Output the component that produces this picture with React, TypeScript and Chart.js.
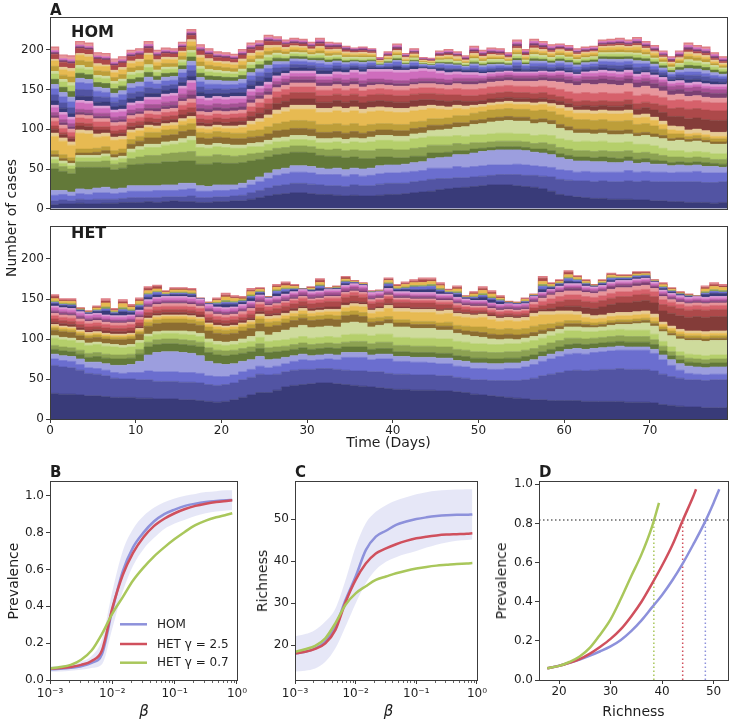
import React, { useEffect, useRef } from "react";
import { Chart, registerables } from "chart.js";

Chart.register(...registerables);

const FONT = "'DejaVu Sans', 'Liberation Sans', Arial, sans-serif";
const TEXT = "#1e1e1e";
const FRAME = "#3c3c3c";

// ---------------- Panel A : ticks ----------------
const DAY_TICKS = [0, 10, 20, 30, 40, 50, 60, 70];
const CASE_TICKS = [0, 50, 100, 150, 200];

// tab20b colour cycle used by the stacked layers
const TAB20B = [
  "#393b79", "#5254a3", "#6b6ecf", "#9c9ede",
  "#637939", "#8ca252", "#b5cf6b", "#cedb9c",
  "#8c6d31", "#bd9e39", "#e7ba52", "#e7cb94",
  "#843c39", "#ad494a", "#d6616b", "#e7969c",
  "#7b4173", "#a55194", "#ce6dbd", "#de9ed6",
];

// ---------------- Panel A : HOM (cases per strain per day) ----------------
const HOM_TOTAL = [203,193,192,210,208,196,195,188,191,199, 201,210,199,202,201,209,225,206,201,197, 196,194,200,208,211,218,216,212,214,213, 209,214,209,208,204,202,203,201,190,197, 207,195,201,190,189,198,200,197,192,204, 199,202,201,196,212,200,213,210,206,207, 205,201,203,204,212,213,214,212,215,210, 205,198,191,198,208,205,203,196,191,191];
const HOM_L1 = [5,6,6,7,6,6,7,7,8,8, 8,9,8,9,10,9,9,8,8,9, 9,10,10,12,14,16,18,19,20,20, 19,18,18,17,16,17,16,16,17,18, 18,19,20,21,22,24,25,26,27,28, 29,30,30,30,29,28,27,25,22,18, 16,15,14,13,13,12,12,12,11,11, 10,10,9,9,8,8,8,7,8,8];
const HOM_L2 = [5,5,4,5,5,6,5,5,5,6, 6,5,6,6,5,6,7,6,6,6, 6,6,7,8,9,10,11,11,12,12, 12,12,11,12,12,13,13,13,14,14, 14,13,14,14,15,14,13,13,12,12, 12,12,13,13,14,14,15,16,18,19, 20,20,21,21,22,22,22,23,23,24, 24,24,25,25,26,26,25,26,26,27];
const HOM_L3 = [7,7,6,7,7,8,8,7,7,8, 8,8,9,8,8,9,9,8,8,8, 8,8,9,10,11,12,13,14,14,14, 14,13,14,14,13,13,12,13,13,13, 13,14,13,13,14,13,13,14,13,13, 13,13,12,12,13,13,12,12,12,12, 12,11,12,12,11,12,12,13,12,12, 12,12,11,12,12,13,12,12,11,12];
const HOM_L4 = [6,5,5,6,6,6,7,6,6,7, 7,7,6,7,7,8,7,7,6,7, 7,6,6,6,6,7,7,7,8,8, 8,8,7,8,8,8,9,9,10,10, 10,10,11,11,12,13,14,15,16,17, 18,18,19,19,18,18,17,17,16,15, 14,14,13,13,13,12,12,12,11,11, 10,10,9,9,8,8,8,8,7,7];
const HOM_L5 = [27,24,23,27,28,26,25,24,25,26, 27,28,28,29,29,28,28,27,28,28, 27,27,26,24,22,20,19,18,17,17, 17,16,16,15,15,14,13,12,11,10, 9,8,8,7,7,6,6,5,5,5, 4,4,4,4,4,4,4,5,5,5, 5,5,5,5,6,6,5,5,5,5, 5,4,4,4,4,4,5,4,4,4];
const HOM_L6 = [7,6,6,7,7,7,8,7,7,8, 9,10,10,10,11,11,12,10,10,10, 10,9,9,9,8,8,8,8,8,8, 8,8,8,9,9,9,10,10,10,10, 10,10,10,11,10,10,9,9,8,8, 7,7,7,7,7,7,7,8,8,8, 8,8,8,8,8,8,9,8,8,8, 8,7,7,6,6,6,6,5,6,6];
const HOM_L7 = [5,4,4,5,5,5,6,5,5,8, 9,10,10,11,11,12,14,11,10,10, 10,10,9,9,8,8,8,8,8,8, 8,8,9,9,9,10,10,11,11,11, 11,11,12,12,11,11,11,10,10,10, 10,10,10,10,9,10,10,10,11,11, 11,11,12,12,12,11,11,11,11,10, 10,9,8,8,7,7,7,7,7,7];
const HOM_L8 = [3,3,3,3,3,3,3,3,3,4, 4,4,4,4,4,5,5,4,4,4, 4,4,4,4,5,5,5,5,5,5, 5,5,5,5,5,5,5,6,6,6, 6,6,6,6,7,8,9,10,12,13, 14,15,15,16,16,16,15,15,14,13, 12,11,10,10,10,10,10,10,10,11, 11,12,12,13,13,13,12,12,12,12];
const HOM_L9 = [3,3,3,3,3,4,4,4,4,6, 7,8,8,8,8,9,8,8,8,8, 8,8,8,8,8,8,9,9,9,9, 9,8,8,8,8,8,7,7,7,7, 7,7,7,7,7,6,6,6,5,5, 5,5,5,5,5,5,5,5,5,5, 5,5,5,5,5,5,5,5,4,4, 4,4,3,3,3,3,3,3,3,3];
const HOM_L10 = [5,5,4,5,5,5,5,5,5,6, 6,7,7,7,7,8,8,7,7,7, 7,7,7,8,8,9,9,10,10,10, 10,10,10,10,10,10,9,9,8,8, 8,8,8,8,8,8,8,9,9,9, 10,10,10,10,10,10,11,11,11,12, 12,12,12,12,12,12,12,12,11,11, 10,8,6,5,4,4,4,4,4,4];
const HOM_L11 = [18,17,16,20,19,14,13,13,12,9, 7,6,5,5,5,5,6,5,5,5, 5,6,7,8,10,11,12,13,14,14, 15,15,15,16,16,16,16,16,16,15, 15,15,14,14,13,12,10,9,8,7, 6,6,6,6,6,6,7,7,7,8, 8,8,8,8,8,9,9,9,8,8, 7,6,5,4,3,3,3,3,3,3];
const HOM_L12 = [4,4,4,4,4,4,4,4,4,3, 3,3,3,3,3,3,3,3,3,3, 3,3,3,4,4,4,5,5,5,5, 5,5,5,5,5,5,5,5,5,5, 5,5,5,5,4,4,4,4,4,3, 3,3,3,3,3,3,3,3,3,4, 4,4,4,4,4,4,4,4,4,4, 4,4,5,5,5,5,5,5,5,5];
const HOM_L13 = [5,4,4,5,5,5,4,4,4,4, 4,4,4,4,4,5,5,4,4,4, 4,5,5,6,7,7,8,8,8,8, 8,8,8,8,8,8,8,8,8,8, 8,8,8,8,7,7,7,6,6,5, 5,5,5,5,5,5,5,5,5,5, 5,5,6,6,6,6,6,7,7,8, 9,11,12,13,14,14,14,15,15,15];
const HOM_L14 = [4,3,3,4,4,4,4,4,4,5, 5,5,5,5,5,6,6,5,5,5, 5,5,5,6,7,7,8,8,8,8, 8,8,8,8,8,8,8,8,8,8, 8,8,8,8,8,8,8,7,7,7, 7,7,7,7,7,7,7,7,6,6, 6,6,6,6,6,6,6,6,7,7, 8,9,10,11,12,12,12,12,12,12];
const HOM_L15 = [6,5,5,6,6,6,6,6,6,5, 5,5,5,5,5,6,6,5,5,5, 5,5,5,6,6,6,7,7,7,7, 7,7,7,7,7,7,7,7,7,7, 7,7,7,7,7,7,7,8,8,8, 8,8,8,8,8,8,8,8,9,9, 9,10,10,10,10,10,10,10,10,10, 10,10,10,10,10,10,10,10,10,10];
const HOM_L16 = [4,4,4,4,4,4,4,4,4,4, 4,4,4,4,4,5,5,4,4,4, 4,4,4,5,5,5,5,5,5,5, 5,5,5,5,5,5,5,5,5,5, 5,5,5,5,5,5,5,6,6,6, 6,6,6,6,6,6,7,7,8,9, 10,10,11,11,11,11,10,10,10,10, 9,8,7,7,6,6,6,6,6,6];
const HOM_L17 = [3,3,3,3,3,3,3,3,3,3, 3,3,4,4,4,4,5,4,4,4, 4,4,4,4,4,4,4,4,4,4, 4,4,4,4,4,4,4,4,3,3, 3,3,3,3,3,3,3,3,4,4, 4,4,4,4,4,4,4,4,4,5, 5,5,5,6,6,6,6,6,6,6, 6,6,6,6,6,6,6,6,6,6];
const HOM_L18 = [4,4,4,4,4,4,4,4,4,4, 4,5,5,5,5,5,6,5,5,5, 5,5,5,5,4,4,4,4,4,4, 4,4,4,4,4,4,4,4,4,4, 4,4,4,4,4,4,4,4,4,4, 3,3,3,3,3,3,3,3,3,4, 4,4,4,4,4,4,4,4,4,4, 5,5,5,5,5,5,5,5,5,5];
const HOM_L19 = [6,6,5,8,8,6,6,6,6,6, 6,6,6,7,7,7,9,7,6,6, 6,6,5,5,5,5,4,4,4,4, 4,4,4,5,6,7,8,9,9,10, 10,10,9,9,8,7,6,5,4,4, 3,3,3,3,3,3,3,3,3,3, 3,3,4,4,4,4,4,4,4,4, 3,3,3,3,3,3,3,3,3,3];
const HOM_L20 = [3,3,3,3,3,3,3,3,3,3, 3,3,3,3,3,3,3,3,3,3, 3,3,3,3,3,3,3,3,3,3, 3,3,3,3,3,3,3,3,3,3, 3,3,3,3,3,3,3,3,3,3, 3,2,2,2,2,2,2,2,2,2, 2,2,2,3,3,3,3,3,3,3, 3,3,3,3,3,3,3,3,3,3];
// thinner strains stacked above the first colour cycle (relative sizes; fitted to the daily total)
const HOM_C1 = [5,5,4,5,6,5,5,4,5,5, 5,4,5,5,6,5,6,5,5,4, 5,5,5,5,6,5,5,4,4,4, 4,4,4,3,3,3,3,3,2,2, 2,2,2,2,2,2,2,2,2,2, 2,2,2,2,3,2,2,2,2,3, 3,3,3,3,3,3,3,3,3,3, 3,3,3,3,3,3,3,3,3,3];
const HOM_C2 = [7,6,6,8,8,7,6,6,7,6, 6,6,6,6,6,7,8,6,6,6, 6,6,6,6,6,6,6,6,4,4, 4,4,4,3,3,3,3,3,1,1, 1,1,1,1,1,1,1,1,1,3, 3,3,3,3,3,3,3,3,3,4, 4,4,4,4,4,4,4,4,4,4, 4,4,4,4,4,4,4,4,4,4];
const HOM_C3 = [7,7,6,8,8,7,6,6,7,6, 6,6,6,6,6,6,7,6,6,6, 6,6,6,5,5,5,5,5,4,4, 4,4,4,3,3,3,3,3,2,2, 2,2,2,2,2,2,2,2,2,3, 3,3,3,3,3,3,3,3,3,4, 4,4,4,4,4,4,4,4,4,4, 4,3,3,3,3,3,3,3,3,3];
const HOM_C4 = [5,5,5,5,5,5,5,5,5,5, 5,5,5,5,5,5,6,5,5,5, 5,5,5,4,4,4,4,4,3,3, 3,3,3,2,2,2,2,2,1,1, 1,1,1,1,1,1,1,1,1,2, 2,2,2,2,2,2,2,2,2,3, 3,3,3,3,3,3,3,3,3,3, 3,3,3,3,3,3,3,3,3,3];
const HOM_C5 = [6,6,6,6,6,6,6,6,6,5, 5,5,5,5,5,5,6,5,5,5, 5,5,5,5,5,5,5,5,3,3, 3,3,3,2,2,2,2,2,1,1, 1,1,1,1,1,1,1,1,1,2, 2,2,2,2,2,2,2,2,2,3, 3,3,3,3,3,3,3,3,3,3, 3,3,3,3,3,3,3,3,3,3];
const HOM_C6 = [6,6,6,6,6,6,6,6,6,5, 5,5,5,5,5,5,6,5,5,5, 5,5,5,4,4,4,4,4,3,3, 3,3,3,2,2,2,2,2,1,1, 1,1,1,1,1,1,1,1,1,2, 2,2,2,2,2,2,2,2,2,3, 3,3,3,3,3,3,3,3,3,3, 3,3,3,3,3,3,3,3,3,3];
const HOM_C7 = [6,5,6,6,7,6,6,5,6,5, 5,5,5,5,5,5,6,5,5,5, 5,5,5,4,4,4,4,4,3,3, 3,3,3,2,2,2,2,2,1,1, 1,1,1,1,1,1,1,1,1,2, 2,2,2,2,2,2,2,2,2,3, 3,3,3,3,3,3,3,3,3,3, 3,3,3,3,3,3,3,2,2,2];
const HOM_C8 = [6,6,6,6,6,6,6,6,6,5, 5,5,5,5,5,5,6,5,5,5, 5,5,5,4,4,4,4,4,3,3, 3,3,3,2,2,2,2,2,1,1, 1,1,1,1,1,1,1,1,1,2, 2,2,2,2,2,2,2,2,2,3, 3,3,3,3,3,3,3,3,3,3, 3,2,2,2,2,2,2,2,2,2];
const HOM_C9 = [6,6,5,6,6,6,6,6,6,5, 5,5,5,5,5,5,6,5,5,5, 5,5,5,5,5,5,5,5,3,3, 3,3,3,2,2,2,2,2,1,1, 1,1,1,1,1,1,1,1,1,2, 2,2,2,2,2,2,2,2,2,2, 2,2,2,2,2,2,2,2,2,2, 2,2,2,2,2,2,2,2,2,2];
const HOM_C10 = [4,4,4,4,4,4,4,4,4,3, 3,3,3,3,3,3,3,3,3,3, 3,3,3,3,3,3,3,3,2,2, 2,2,2,1,1,1,1,1,1,1, 1,1,1,1,1,1,1,1,1,2, 2,2,2,2,2,2,2,2,2,2, 2,2,2,2,2,2,2,2,2,2, 2,2,2,2,2,2,2,2,2,2];
const HOM_C11 = [3,3,3,3,3,3,3,3,3,3, 3,3,3,3,3,3,3,3,3,3, 3,3,3,3,3,3,3,3,2,2, 2,2,2,2,2,2,2,2,1,1, 1,1,1,1,1,1,1,1,1,2, 2,2,2,2,2,2,2,2,2,2, 2,2,2,2,2,2,2,2,2,2, 2,2,2,2,2,2,2,2,2,2];
const HOM_C12 = [2,3,3,2,3,3,2,3,3,3, 3,2,3,3,3,2,3,3,3,2, 3,3,3,3,2,3,3,3,2,2, 2,2,2,2,2,2,2,2,1,1, 1,2,1,1,1,1,1,2,1,2, 2,2,2,2,2,2,2,2,2,2, 2,2,2,2,2,2,2,2,2,2, 2,2,2,2,2,2,2,2,2,2];
const HOM_C13 = [2,2,2,2,2,2,2,2,2,2, 2,2,2,2,2,2,3,2,2,2, 2,2,2,2,2,2,2,2,2,2, 2,2,2,2,2,2,2,2,1,1, 1,1,1,1,1,1,1,1,1,2, 2,2,2,2,2,2,2,2,2,2, 2,2,2,2,2,2,2,2,2,2, 2,2,2,2,2,2,2,2,2,2];
const HOM_C14 = [2,2,2,2,2,2,2,2,2,2, 2,2,2,2,2,2,2,2,2,2, 2,2,2,2,2,2,2,2,2,2, 2,2,2,1,1,1,1,1,1,1, 1,1,1,1,1,1,1,1,1,2, 2,2,2,2,2,2,2,2,2,2, 2,2,2,2,2,2,2,2,2,2, 2,2,2,2,2,2,2,2,2,2];

// ---------------- Panel A : HET ----------------
const HET_TOTAL = [155,150,150,139,135,141,150,138,149,143, 151,165,167,160,164,164,163,151,146,151, 157,154,153,163,164,153,168,171,168,163, 165,175,164,166,178,173,170,160,161,176, 168,171,174,176,176,170,162,166,154,159, 165,160,154,147,146,151,156,178,170,174, 185,179,174,168,174,182,180,180,184,184, 174,170,164,159,156,154,166,170,168,168];
const HET_L1 = [32,31,31,30,29,29,28,27,27,27, 26,26,25,25,25,24,24,23,22,21, 22,24,27,30,33,33,36,40,42,43, 44,45,45,44,43,42,41,40,39,38, 37,37,36,36,36,35,35,34,33,31, 30,29,28,27,26,25,24,24,23,23, 23,23,22,22,22,22,22,21,21,21, 20,18,17,16,15,15,14,14,14,15];
const HET_L2 = [35,34,33,31,28,27,26,24,23,23, 23,23,22,22,22,22,22,22,21,21, 21,21,22,22,23,22,20,19,19,19, 18,18,18,18,18,18,19,19,20,19, 19,19,19,19,19,19,19,18,18,18, 19,19,20,21,22,24,27,30,33,35, 37,38,38,39,40,40,41,41,41,41, 40,38,36,35,34,34,34,35,35,35];
const HET_L3 = [8,8,8,7,7,7,7,7,7,8, 9,11,12,12,12,12,12,12,11,11, 10,10,10,10,10,9,10,10,11,12, 11,11,12,12,16,17,17,15,16,18, 16,16,16,16,15,15,15,14,14,14, 14,14,14,15,15,16,17,18,19,20, 21,21,21,22,22,23,23,24,24,24, 22,18,14,10,8,7,7,7,7,7];
const HET_L4 = [6,6,6,7,7,8,8,9,10,10, 14,20,24,25,25,25,24,22,18,16, 15,14,13,12,12,10,9,8,7,7, 6,6,6,6,6,6,6,6,6,6, 6,6,6,6,7,7,7,7,7,7, 7,7,7,7,7,7,6,6,6,6, 6,6,6,5,5,5,5,4,4,4, 5,6,7,8,9,9,9,9,9,9];
const HET_L5 = [6,6,6,6,6,7,7,8,8,8, 9,10,10,10,10,10,10,11,11,11, 11,11,10,10,10,9,9,8,8,8, 8,8,8,8,7,7,7,7,7,7, 6,6,6,6,6,6,6,6,6,6, 6,6,6,6,6,6,6,6,6,6, 6,6,6,6,6,6,6,6,6,6, 6,5,5,5,5,5,5,5,5,5];
const HET_L6 = [5,5,5,5,5,5,5,5,5,5, 6,6,6,6,6,6,6,6,6,6, 6,6,6,6,6,6,6,6,6,6, 6,6,6,6,6,7,7,7,8,8, 8,8,8,8,8,8,8,8,8,8, 8,8,8,8,8,8,8,8,8,8, 8,7,7,7,7,7,7,7,7,7, 6,6,5,5,5,5,5,5,5,5];
const HET_L7 = [9,9,9,9,10,10,10,10,9,9, 8,7,7,7,7,7,7,7,7,7, 7,7,7,7,8,8,8,8,8,8, 8,8,8,8,9,9,9,10,10,10, 10,10,10,10,10,10,10,10,10,10, 10,10,10,10,10,10,10,9,9,9, 9,9,9,8,8,8,8,8,8,8, 7,6,6,5,5,5,5,5,5,5];
const HET_L8 = [3,3,3,3,3,3,3,3,3,3, 3,3,3,3,3,4,4,4,4,4, 4,4,5,6,7,8,10,12,13,14, 13,13,13,13,15,15,14,11,11,13, 13,13,12,12,12,11,11,10,9,9, 8,7,6,6,5,5,5,5,5,5, 5,5,5,5,5,6,6,7,8,9, 10,12,14,16,17,18,18,18,18,18];
const HET_L9 = [7,7,7,6,6,6,6,6,7,7, 8,10,10,10,10,10,10,10,10,10, 10,10,10,10,10,10,9,9,9,9, 9,9,9,9,9,9,8,6,5,5, 5,5,5,5,5,5,5,5,5,6, 6,6,6,6,6,5,5,5,4,4, 4,4,4,3,3,3,3,3,3,3, 3,3,3,3,3,3,3,3,3,3];
const HET_L10 = [3,3,3,3,3,3,3,3,3,3, 3,5,5,5,5,5,5,5,5,5, 5,5,5,5,6,6,5,5,5,5, 5,5,5,5,5,5,5,5,5,4, 4,4,4,4,4,4,5,5,6,6, 7,7,7,7,7,7,8,7,6,5, 4,4,3,3,3,3,3,3,3,3, 3,3,3,3,3,3,3,3,3,3];
const HET_L11 = [2,2,2,2,2,2,2,2,2,2, 2,3,3,3,3,3,3,3,3,3, 3,3,3,3,3,4,4,4,4,4, 4,4,4,5,5,6,7,6,7,10, 10,10,11,11,11,11,11,11,11,11, 12,11,10,10,10,10,12,12,11,10, 8,7,6,5,5,5,5,5,5,5, 5,3,3,3,3,3,3,3,3,3];
const HET_L12 = [2,2,2,2,2,2,2,2,2,2, 2,2,2,2,2,2,2,2,2,2, 2,2,2,2,3,3,3,3,3,3, 3,3,3,3,3,3,3,4,4,4, 4,4,4,4,4,4,4,4,4,4, 4,4,4,4,4,4,4,4,4,4, 4,4,4,4,4,4,4,4,4,4, 4,3,3,3,3,3,3,3,3,3];
const HET_L13 = [3,3,3,3,3,3,3,3,3,3, 3,3,3,3,3,3,3,3,3,3, 3,3,3,3,3,3,3,3,3,3, 3,3,3,3,3,3,3,2,2,2, 2,2,2,2,2,2,2,2,2,2, 2,2,2,2,2,2,3,3,4,5, 6,7,8,9,10,11,12,12,13,13, 14,14,16,17,17,18,18,18,18,18];
const HET_L14 = [4,4,4,4,4,4,4,4,4,4, 4,4,4,4,4,4,4,4,4,4, 4,4,4,5,5,5,6,6,6,6, 6,6,7,7,7,7,6,6,6,6, 6,6,6,6,6,6,5,5,4,4, 3,3,3,3,3,3,4,5,6,7, 8,8,8,8,8,8,8,8,8,8, 8,8,9,9,9,9,9,9,9,9];
const HET_L15 = [4,4,4,4,4,4,4,4,4,4, 4,4,4,4,4,4,4,4,4,4, 4,4,4,4,4,4,4,4,4,4, 4,4,4,4,4,4,4,3,3,3, 3,3,3,3,3,3,3,3,3,3, 3,3,3,3,3,3,4,5,6,6, 6,6,6,6,6,6,6,6,6,6, 6,6,5,5,5,5,5,5,5,5];
const HET_L16 = [3,3,3,3,3,3,3,3,3,3, 3,3,3,3,3,3,3,3,3,3, 3,3,3,3,3,2,2,2,2,2, 2,2,2,2,2,2,2,2,2,2, 2,2,2,2,2,2,2,2,2,2, 2,2,2,2,2,2,3,4,5,5, 5,5,5,5,5,5,5,5,5,5, 4,4,3,3,3,3,3,3,3,3];
const HET_L17 = [2,2,2,2,2,2,2,2,2,2, 2,2,2,2,2,2,2,2,2,2, 2,2,2,2,2,2,2,2,2,2, 2,2,2,2,2,2,2,2,2,2, 2,2,2,2,2,2,2,2,2,2, 2,2,2,2,2,2,2,2,2,2, 3,3,2,2,2,3,3,3,3,3, 2,2,2,2,2,2,2,2,2,2];
const HET_L18 = [2,2,2,2,2,2,2,2,2,2, 2,2,2,2,2,2,2,2,2,2, 2,2,2,3,3,3,3,3,3,3, 3,3,3,3,3,3,3,3,2,2, 2,2,2,2,2,2,2,2,2,2, 2,2,2,2,2,2,2,2,2,2, 2,2,2,2,2,2,2,2,2,2, 2,2,2,2,2,2,2,2,2,2];
const HET_L19 = [3,3,3,3,3,3,3,3,3,3, 3,3,3,3,3,3,3,3,3,3, 3,3,3,2,2,2,2,2,2,2, 2,2,2,2,2,2,2,2,2,2, 2,2,2,2,2,2,2,2,2,2, 2,2,2,2,2,2,2,2,2,2, 2,2,2,2,2,2,2,2,2,2, 2,2,2,2,2,2,2,2,2,2];
const HET_L20 = [2,2,2,2,2,2,2,2,2,2, 2,2,2,2,2,2,2,2,2,2, 2,2,2,2,2,2,2,2,2,2, 2,2,2,2,2,2,2,2,2,2, 2,2,2,2,2,2,2,2,2,1, 1,1,1,1,1,1,1,1,1,2, 2,2,2,2,2,2,2,2,2,2, 2,2,2,2,2,2,2,2,2,2];
const HET_C1 = [2,2,2,2,2,2,2,2,2,2, 2,2,2,2,2,2,2,1,2,2, 2,2,2,2,2,1,2,2,2,2, 2,2,1,2,2,2,2,1,1,2, 2,2,2,2,2,2,2,2,2,2, 2,2,2,2,2,2,2,2,2,2, 2,2,2,2,2,2,2,2,2,2, 2,2,2,2,2,1,2,2,2,2];
const HET_C2 = [1,1,1,1,1,1,1,1,1,1, 1,2,2,1,1,1,1,1,1,1, 1,1,1,1,1,1,2,2,1,1, 1,2,1,1,2,1,1,1,1,2, 1,1,2,2,2,1,1,1,1,1, 1,1,1,1,1,1,1,2,1,1, 2,2,1,1,1,2,2,2,2,2, 1,1,1,1,1,1,1,1,1,1];
const HET_C3 = [1,1,1,1,1,1,1,1,1,1, 1,1,1,1,1,1,1,1,1,1, 1,1,1,1,1,1,1,1,1,1, 1,1,1,1,1,1,1,1,1,1, 1,1,1,1,1,1,1,1,1,1, 1,1,1,1,1,1,1,1,1,1, 1,1,1,1,1,1,1,1,1,1, 1,1,1,1,1,1,1,1,1,1];
const HET_C4 = [2,2,2,1,1,2,2,1,2,2, 2,2,2,2,2,2,2,1,1,2, 2,2,1,2,2,1,2,2,2,2, 2,2,1,2,2,2,2,1,1,2, 2,2,2,2,2,2,2,2,1,2, 2,2,1,1,1,2,2,2,2,2, 2,2,2,2,2,2,2,2,2,2, 2,2,2,1,1,1,2,2,2,2];
const HET_C5 = [2,1,1,1,1,1,1,1,1,1, 1,2,2,1,1,1,1,1,1,1, 1,1,1,1,1,1,1,2,1,1, 1,2,1,1,2,1,1,1,1,1, 1,1,1,2,1,1,1,1,1,1, 1,1,1,1,1,1,1,2,1,1, 2,1,1,1,1,1,1,1,2,2, 1,1,1,1,1,1,1,1,1,1];
const HET_C6 = [1,1,1,1,1,1,1,1,1,1, 1,1,1,1,1,1,1,1,1,1, 1,1,1,1,1,1,1,1,1,1, 1,1,1,1,1,1,1,1,1,1, 1,1,1,1,1,1,1,1,1,1, 1,1,1,1,1,1,1,1,1,1, 1,1,1,1,1,1,1,1,1,1, 1,1,1,1,1,1,1,1,1,1];

// ---------------- Panels B and C : vs beta ----------------
const BETA = [0.001, 0.00147, 0.00215, 0.00316, 0.00464, 0.00681, 0.01, 0.0147, 0.0215, 0.0316, 0.0464, 0.0681, 0.1, 0.147, 0.215, 0.316, 0.464, 0.681, 0.84];
const BETA_TICKS = [0.001, 0.01, 0.1, 1];
const BETA_TICK_LABELS = ["10\u207B\u00B3", "10\u207B\u00B2", "10\u207B\u00B9", "10\u2070"];

const PREV_HOM = [0.058, 0.061, 0.066, 0.075, 0.093, 0.14, 0.38, 0.59, 0.72, 0.80, 0.86, 0.90, 0.925, 0.945, 0.957, 0.966, 0.972, 0.976, 0.977];
const PREV_HET25 = [0.062, 0.065, 0.071, 0.082, 0.103, 0.16, 0.39, 0.57, 0.69, 0.775, 0.835, 0.875, 0.905, 0.928, 0.945, 0.957, 0.966, 0.972, 0.975];
const PREV_HET07 = [0.063, 0.07, 0.082, 0.11, 0.16, 0.25, 0.36, 0.45, 0.54, 0.61, 0.67, 0.72, 0.765, 0.805, 0.84, 0.865, 0.883, 0.897, 0.905];
const PREV_HOM_HI = [0.075, 0.078, 0.085, 0.1, 0.13, 0.22, 0.48, 0.70, 0.82, 0.89, 0.935, 0.965, 0.985, 1.0, 1.01, 1.02, 1.025, 1.03, 1.03];
const PREV_HOM_LO = [0.045, 0.046, 0.05, 0.055, 0.065, 0.085, 0.28, 0.48, 0.62, 0.71, 0.77, 0.82, 0.85, 0.87, 0.89, 0.905, 0.915, 0.92, 0.922];
const PREV_TICKS = [0, 0.2, 0.4, 0.6, 0.8, 1.0];
const PREV_TICK_LABELS = ["0.0", "0.2", "0.4", "0.6", "0.8", "1.0"];

const RICH_HOM = [18.0, 18.4, 19.2, 20.8, 24.4, 30.7, 36.3, 42.6, 45.8, 47.2, 48.6, 49.4, 50.0, 50.4, 50.7, 50.9, 51.0, 51.0, 51.1];
const RICH_HET25 = [18.0, 18.4, 19.1, 20.4, 23.6, 30.2, 35.5, 39.4, 41.8, 43.0, 44.0, 44.8, 45.4, 45.8, 46.1, 46.3, 46.4, 46.5, 46.6];
const RICH_HET07 = [18.4, 19.0, 19.8, 21.6, 25.2, 29.6, 32.3, 34.0, 35.5, 36.3, 37.1, 37.7, 38.2, 38.6, 38.9, 39.1, 39.3, 39.4, 39.5];
const RICH_HOM_HI = [22.1, 22.6, 23.6, 25.6, 28.7, 35.5, 43.4, 49.0, 51.7, 53.3, 54.4, 55.2, 55.9, 56.4, 56.7, 56.9, 57.0, 57.1, 57.1];
const RICH_HOM_LO = [13.7, 13.9, 14.4, 16.0, 19.2, 24.4, 29.9, 34.7, 37.9, 39.8, 40.9, 41.7, 42.4, 43.2, 43.9, 44.4, 44.8, 45.0, 45.1];
const RICH_TICKS = [20, 30, 40, 50];

// ---------------- Panel D : prevalence vs richness ----------------
const D_R_HOM = [17.7, 20, 22, 24, 26, 28, 30, 32, 34, 36, 38, 40, 42, 44, 46, 48, 50, 51.1];
const D_P_HOM = [0.06, 0.073, 0.088, 0.105, 0.125, 0.147, 0.172, 0.205, 0.25, 0.305, 0.37, 0.435, 0.51, 0.595, 0.69, 0.79, 0.905, 0.975];
const D_R_HET25 = [17.7, 20, 22, 24, 26, 28, 30, 32, 34, 36, 38, 40, 42, 44, 46, 46.6];
const D_P_HET25 = [0.06, 0.072, 0.088, 0.107, 0.135, 0.17, 0.21, 0.26, 0.325, 0.40, 0.49, 0.585, 0.69, 0.815, 0.935, 0.975];
const D_R_HET07 = [17.7, 20, 22, 24, 26, 28, 30, 32, 34, 36, 38, 39.4];
const D_P_HET07 = [0.06, 0.072, 0.092, 0.12, 0.165, 0.233, 0.31, 0.415, 0.53, 0.642, 0.78, 0.905];
const D_THRESHOLD_P = 0.818;
const D_THRESHOLD_R = [48.4, 44.0, 38.4]; // HOM, HET 2.5, HET 0.7
const D_X_RANGE = [16.1, 52.8];
const D_X_TICKS = [20, 30, 40, 50];

const C_HOM = "#8d91db";
const C_HET25 = "#d0505d";
const C_HET07 = "#a9c75b";
const C_BAND = "rgba(156,158,222,0.25)";

// ---------------- helpers ----------------
const framePlugin = {
  id: "frame",
  afterDatasetsDraw(chart: any) {
    const { ctx, chartArea: a } = chart;
    const x0 = Math.round(a.left), x1 = Math.round(a.right);
    const y0 = Math.round(a.top), y1 = Math.round(a.bottom);
    ctx.save();
    ctx.strokeStyle = FRAME;
    ctx.lineWidth = 1;
    ctx.strokeRect(x0 + 0.5, y0 + 0.5, x1 - x0, y1 - y0);
    ctx.restore();
  },
};

const minorLogTicks = {
  id: "minorLogTicks",
  afterDraw(chart: any) {
    const sx = chart.scales.x;
    const b = Math.round(chart.chartArea.bottom);
    const ctx = chart.ctx;
    ctx.save();
    ctx.strokeStyle = FRAME;
    ctx.lineWidth = 0.8;
    for (const dec of [0.001, 0.01, 0.1]) {
      for (let k = 2; k <= 9; k++) {
        const px = Math.round(sx.getPixelForValue(dec * k)) + 0.5;
        ctx.beginPath();
        ctx.moveTo(px, b + 1);
        ctx.lineTo(px, b + 3);
        ctx.stroke();
      }
    }
    ctx.restore();
  },
};

function fixedTicks(values: number[]) {
  return (scale: any) => {
    scale.ticks = values.map((v) => ({ value: v }));
  };
}

function axis(extra: any, tickPad = 2) {
  return {
    grid: { display: true, drawOnChartArea: false, drawTicks: true, tickLength: 4, tickColor: FRAME, tickWidth: 1 },
    border: { display: false },
    ticks: { color: TEXT, font: { family: FONT, size: 12 }, padding: tickPad, maxRotation: 0, autoSkip: false },
    ...extra,
  };
}

// the thin upper strains are given as relative sizes and fitted to the read daily total
function fitToTotal(lower: number[][], upper: number[][], total: number[]) {
  const fitted = upper.map(() => [] as number[]);
  total.forEach((t, d) => {
    const base = lower.reduce((s, l) => s + l[d], 0);
    const up = upper.reduce((s, l) => s + l[d], 0);
    const f = up > 0 ? Math.max(0, t - base) / up : 0;
    upper.forEach((l, k) => fitted[k].push(l[d] * f));
  });
  return [...lower, ...fitted];
}

function stackConfig(layers: number[][], colors: string[], showX: boolean, padding: any, xHeight: number) {
  const n = layers.length;
  const datasets = layers.map((vals, i) => ({
    data: vals.map((v, d) => ({ x: d, y: v })),
    backgroundColor: colors[i],
    borderColor: i === n - 1 ? "#de7f86" : colors[i],
    borderWidth: i === n - 1 ? 1.3 : 0.7,
    fill: i === 0 ? "origin" : "-1",
    stepped: true,
    pointRadius: 0,
    pointHoverRadius: 0,
    tension: 0,
  }));
  return {
    type: "line",
    data: { datasets },
    options: {
      animation: false,
      responsive: false,
      maintainAspectRatio: false,
      events: [],
      layout: { padding },
      plugins: { legend: { display: false }, tooltip: { enabled: false } },
      scales: {
        x: axis({
          type: "linear",
          min: 0,
          max: 79,
          display: showX,
          afterBuildTicks: fixedTicks(DAY_TICKS),
          afterFit: (s: any) => { s.height = xHeight; },
        }, 1),
        y: axis({
          type: "linear",
          stacked: true,
          min: 0,
          max: 241,
          afterBuildTicks: fixedTicks(CASE_TICKS),
          afterFit: (s: any) => { s.width = 50; },
        }),
      },
    },
    plugins: [framePlugin],
  };
}

function line(xs: number[], ys: number[], color: string, order: number, extra: any = {}) {
  return {
    data: xs.map((x, i) => ({ x, y: ys[i] })),
    borderColor: color,
    backgroundColor: color,
    borderWidth: 2.5,
    pointRadius: 0,
    pointHoverRadius: 0,
    fill: false,
    cubicInterpolationMode: "monotone",
    order,
    ...extra,
  };
}

function betaConfig(lo: number[], hi: number[], hom: number[], h25: number[], h07: number[], yMin: number, yMax: number, yTicks: number[], yLabels: string[] | null, yWidth: number, padRight: number, legend: boolean) {
  const legendPlugin = {
    id: "legendB",
    afterDraw(chart: any) {
      if (!legend) return;
      const { ctx, chartArea: a } = chart;
      const rows = [
        { label: "HOM", color: C_HOM, dy: 55.7 },
        { label: "HET \u03B3 = 2.5", color: C_HET25, dy: 36 },
        { label: "HET \u03B3 = 0.7", color: C_HET07, dy: 17.3 },
      ];
      ctx.save();
      ctx.font = `12px ${FONT}`;
      ctx.textBaseline = "middle";
      ctx.fillStyle = TEXT;
      for (const r of rows) {
        const y = a.bottom - r.dy;
        ctx.strokeStyle = r.color;
        ctx.lineWidth = 2.5;
        ctx.beginPath();
        ctx.moveTo(a.left + 70, y);
        ctx.lineTo(a.left + 97, y);
        ctx.stroke();
        ctx.fillText(r.label, a.left + 107, y + 0.5);
      }
      ctx.restore();
    },
  };
  return {
    type: "line",
    data: {
      datasets: [
        line(BETA, lo, "rgba(0,0,0,0)", 10, { borderWidth: 0 }),
        line(BETA, hi, "rgba(0,0,0,0)", 10, { borderWidth: 0, fill: "-1", backgroundColor: C_BAND }),
        line(BETA, hom, C_HOM, 3),
        line(BETA, h25, C_HET25, 2),
        line(BETA, h07, C_HET07, 1),
      ],
    },
    options: {
      animation: false,
      responsive: false,
      maintainAspectRatio: false,
      events: [],
      layout: { padding: { top: 21, right: padRight, bottom: 0, left: 0 } },
      plugins: { legend: { display: false }, tooltip: { enabled: false } },
      scales: {
        x: axis({
          type: "logarithmic",
          min: 0.001,
          max: 1,
          afterBuildTicks: fixedTicks(BETA_TICKS),
          afterFit: (s: any) => { s.height = 44; },
          ticks: {
            color: TEXT, font: { family: FONT, size: 12 }, padding: 3, maxRotation: 0, autoSkip: false,
            callback: (_v: any, i: number) => BETA_TICK_LABELS[i],
          },
        }),
        y: axis({
          type: "linear",
          min: yMin,
          max: yMax,
          afterBuildTicks: fixedTicks(yTicks),
          afterFit: (s: any) => { s.width = yWidth; },
          ticks: {
            color: TEXT, font: { family: FONT, size: 12 }, padding: 2, maxRotation: 0, autoSkip: false,
            callback: (v: any, i: number) => (yLabels ? yLabels[i] : String(v)),
          },
        }),
      },
    },
    plugins: [framePlugin, minorLogTicks, legendPlugin],
  };
}

function dConfig() {
  const dotted = { borderWidth: 1.5, borderDash: [1.5, 2.5], cubicInterpolationMode: "default", tension: 0 };
  return {
    type: "line",
    data: {
      datasets: [
        line(D_X_RANGE, [D_THRESHOLD_P, D_THRESHOLD_P], "#666666", 5, dotted),
        line([D_THRESHOLD_R[0], D_THRESHOLD_R[0]], [0, D_THRESHOLD_P], C_HOM, 5, dotted),
        line([D_THRESHOLD_R[1], D_THRESHOLD_R[1]], [0, D_THRESHOLD_P], C_HET25, 5, dotted),
        line([D_THRESHOLD_R[2], D_THRESHOLD_R[2]], [0, D_THRESHOLD_P], C_HET07, 5, dotted),
        line(D_R_HOM, D_P_HOM, C_HOM, 3),
        line(D_R_HET25, D_P_HET25, C_HET25, 2),
        line(D_R_HET07, D_P_HET07, C_HET07, 1),
      ],
    },
    options: {
      animation: false,
      responsive: false,
      maintainAspectRatio: false,
      events: [],
      layout: { padding: { top: 21, right: 3, bottom: 0, left: 0 } },
      plugins: { legend: { display: false }, tooltip: { enabled: false } },
      scales: {
        x: axis({
          type: "linear",
          min: D_X_RANGE[0],
          max: D_X_RANGE[1],
          afterBuildTicks: fixedTicks(D_X_TICKS),
          afterFit: (s: any) => { s.height = 44; },
        }, 1),
        y: axis({
          type: "linear",
          min: 0,
          max: 1.017,
          afterBuildTicks: fixedTicks(PREV_TICKS),
          afterFit: (s: any) => { s.width = 49; },
          ticks: {
            color: TEXT, font: { family: FONT, size: 12 }, padding: 2, maxRotation: 0, autoSkip: false,
            callback: (_v: any, i: number) => PREV_TICK_LABELS[i],
          },
        }),
      },
    },
    plugins: [framePlugin],
  };
}

function ChartBox({ left, top, width, height, make }: any) {
  const ref = useRef<HTMLCanvasElement>(null);
  useEffect(() => {
    const chart = new Chart(ref.current as HTMLCanvasElement, make());
    return () => chart.destroy();
  }, []);
  return (
    <canvas
      ref={ref}
      width={width}
      height={height}
      style={{ position: "absolute", left, top, width, height }}
    />
  );
}

function Label({ x, y, size, bold, italic, rotate, center, children }: any) {
  const style: any = {
    position: "absolute",
    fontFamily: FONT,
    fontSize: size,
    fontWeight: bold ? "bold" : "normal",
    fontStyle: italic ? "italic" : "normal",
    color: TEXT,
    lineHeight: 1,
    whiteSpace: "nowrap",
  };
  if (center) {
    style.left = x;
    style.top = y;
    style.transform = `translate(-50%, -50%)${rotate ? " rotate(-90deg)" : ""}`;
  } else {
    style.left = x;
    style.top = y - 0.846 * size;
  }
  return <div style={style}>{children}</div>;
}

export default function App() {
  const homLayers = fitToTotal(
    [HOM_L1, HOM_L2, HOM_L3, HOM_L4, HOM_L5, HOM_L6, HOM_L7, HOM_L8, HOM_L9, HOM_L10,
     HOM_L11, HOM_L12, HOM_L13, HOM_L14, HOM_L15, HOM_L16, HOM_L17, HOM_L18, HOM_L19, HOM_L20],
    [HOM_C1, HOM_C2, HOM_C3, HOM_C4, HOM_C5, HOM_C6, HOM_C11, HOM_C7, HOM_C8, HOM_C12,
     HOM_C9, HOM_C13, HOM_C14, HOM_C10],
    HOM_TOTAL);
  const homColors = [
    ...TAB20B,
    "#393b79", "#5254a3", "#6b6ecf", "#9c9ede", "#637939", "#b5cf6b", "#cedb9c",
    "#bd9e39", "#e7ba52", "#e7cb94", "#ad494a", "#7b4173", "#ce6dbd", "#e7969c",
  ];
  const hetLayers = fitToTotal(
    [HET_L1, HET_L2, HET_L3, HET_L4, HET_L5, HET_L6, HET_L7, HET_L8, HET_L9, HET_L10,
     HET_L11, HET_L12, HET_L13, HET_L14, HET_L15, HET_L16, HET_L17, HET_L18, HET_L19, HET_L20],
    [HET_C1, HET_C2, HET_C3, HET_C4, HET_C5, HET_C6],
    HET_TOTAL);
  const hetColors = [...TAB20B, "#393b79", "#6b6ecf", "#8ca252", "#e7ba52", "#ad494a", "#e7969c"];

  return (
    <div style={{ position: "absolute", left: 0, top: 0, width: 731, height: 724, background: "#ffffff", overflow: "hidden" }}>
      <ChartBox left={0} top={0} width={731} height={218}
        make={() => stackConfig(homLayers, homColors, false, { top: 17, right: 4, bottom: 1, left: 0 }, 0)} />
      <ChartBox left={0} top={217} width={731} height={229}
        make={() => stackConfig(hetLayers, hetColors, true, { top: 0, right: 4, bottom: 0, left: 0 }, 27)} />
      <ChartBox left={0} top={460} width={250} height={264}
        make={() => betaConfig(PREV_HOM_LO, PREV_HOM_HI, PREV_HOM, PREV_HET25, PREV_HET07, 0, 1.08, PREV_TICKS, PREV_TICK_LABELS, 50, 12, true)} />
      <ChartBox left={250} top={460} width={240} height={264}
        make={() => betaConfig(RICH_HOM_LO, RICH_HOM_HI, RICH_HOM, RICH_HET25, RICH_HET07, 11.67, 59.05, RICH_TICKS, null, 45, 8, false)} />
      <ChartBox left={490} top={460} width={241} height={264} make={() => dConfig()} />

      <Label x={50} y={15.5} size={15} bold>A</Label>
      <Label x={71} y={37.3} size={16} bold>HOM</Label>
      <Label x={71} y={238.3} size={16} bold>HET</Label>
      <Label x={11} y={218} size={14} center rotate>Number of cases</Label>
      <Label x={388.5} y={442} size={14} center>Time (Days)</Label>

      <Label x={50} y={478} size={15} bold>B</Label>
      <Label x={295} y={478} size={15} bold>C</Label>
      <Label x={539} y={478} size={15} bold>D</Label>

      <Label x={13} y={580.5} size={14} center rotate>Prevalence</Label>
      <Label x={262} y={580.5} size={14} center rotate>Richness</Label>
      <Label x={501} y={580.5} size={14} center rotate>Prevalence</Label>

      <Label x={144} y={711} size={15} italic center>β</Label>
      <Label x={388.5} y={711} size={15} italic center>β</Label>
      <Label x={633.5} y={711} size={14} center>Richness</Label>
    </div>
  );
}
